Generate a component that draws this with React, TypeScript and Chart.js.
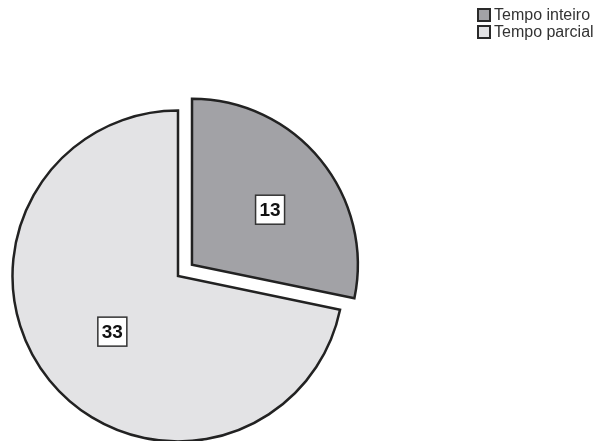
import React, { useEffect, useRef } from "react";
import { Chart, registerables } from "chart.js";

Chart.register(...registerables);

const categories = ["Tempo inteiro", "Tempo parcial"];
const values = [13, 33];
const sliceColors = ["#a2a2a6", "#e3e3e5"];
const sliceOffsets = [72, 0];
const labelRatios = [0.577, 0.52];
const labelAngleShift = [0.07, -0.02];

const FONT = "'Liberation Sans', Arial, sans-serif";

const valueLabelPlugin = {
  id: "valueLabels",
  afterDatasetsDraw(chart: any) {
    const ctx = chart.ctx;
    const meta = chart.getDatasetMeta(0);
    meta.data.forEach((arc: any, i: number) => {
      const { x, y, startAngle, endAngle, outerRadius } = arc.getProps(
        ["x", "y", "startAngle", "endAngle", "outerRadius"],
        true
      );
      const mid = (startAngle + endAngle) / 2;
      const off = (arc.options.offset || 0) / 4;
      const ox = x + Math.cos(mid) * off;
      const oy = y + Math.sin(mid) * off;
      const a = mid + labelAngleShift[i];
      const r = outerRadius * labelRatios[i];
      const cx = ox + Math.cos(a) * r;
      const cy = oy + Math.sin(a) * r;
      const text = String(chart.data.datasets[0].data[i]);
      ctx.save();
      ctx.font = `bold 19px ${FONT}`;
      const w = 29;
      const h = 29;
      ctx.fillStyle = "#ffffff";
      ctx.fillRect(cx - w / 2, cy - h / 2, w, h);
      ctx.strokeStyle = "#333333";
      ctx.lineWidth = 1.5;
      ctx.strokeRect(cx - w / 2, cy - h / 2, w, h);
      ctx.fillStyle = "#111111";
      ctx.textAlign = "center";
      ctx.textBaseline = "middle";
      ctx.fillText(text, cx, cy + 1);
      ctx.restore();
    });
  },
};

const legendPlugin = {
  id: "customLegend",
  afterDraw(chart: any) {
    const ctx = chart.ctx;
    const labels = chart.data.labels as string[];
    const colors = chart.data.datasets[0].backgroundColor as string[];
    ctx.save();
    labels.forEach((label, i) => {
      const bx = 478;
      const by = 9 + i * 17;
      ctx.fillStyle = colors[i];
      ctx.fillRect(bx, by, 12, 12);
      ctx.strokeStyle = "#2a2a2a";
      ctx.lineWidth = 2;
      ctx.strokeRect(bx, by, 12, 12);
      ctx.fillStyle = "#333333";
      ctx.font = `16px ${FONT}`;
      ctx.textAlign = "left";
      ctx.textBaseline = "middle";
      ctx.fillText(label, bx + 16, by + 6.5);
    });
    ctx.restore();
  },
};

export default function App() {
  const ref = useRef<HTMLCanvasElement | null>(null);

  useEffect(() => {
    document.body.style.margin = "0";
    const canvas = ref.current;
    if (!canvas) return;
    const chart = new Chart(canvas, {
      type: "pie",
      data: {
        labels: categories,
        datasets: [
          {
            data: values,
            backgroundColor: sliceColors,
            borderColor: "#222222",
            borderWidth: 2.5,
            borderJoinStyle: "miter",
            offset: sliceOffsets,
          } as any,
        ],
      },
      options: {
        responsive: false,
        animation: false,
        radius: 165.5,
        layout: { padding: { left: 0, right: 260, top: 111, bottom: 0 } },
        plugins: {
          legend: { display: false },
          tooltip: { enabled: false },
          title: { display: false },
        },
      } as any,
      plugins: [valueLabelPlugin, legendPlugin],
    });
    return () => chart.destroy();
  }, []);

  return (
    <div style={{ width: 616, height: 441, background: "#ffffff" }}>
      <canvas ref={ref} width={616} height={441} style={{ display: "block" }} />
    </div>
  );
}
